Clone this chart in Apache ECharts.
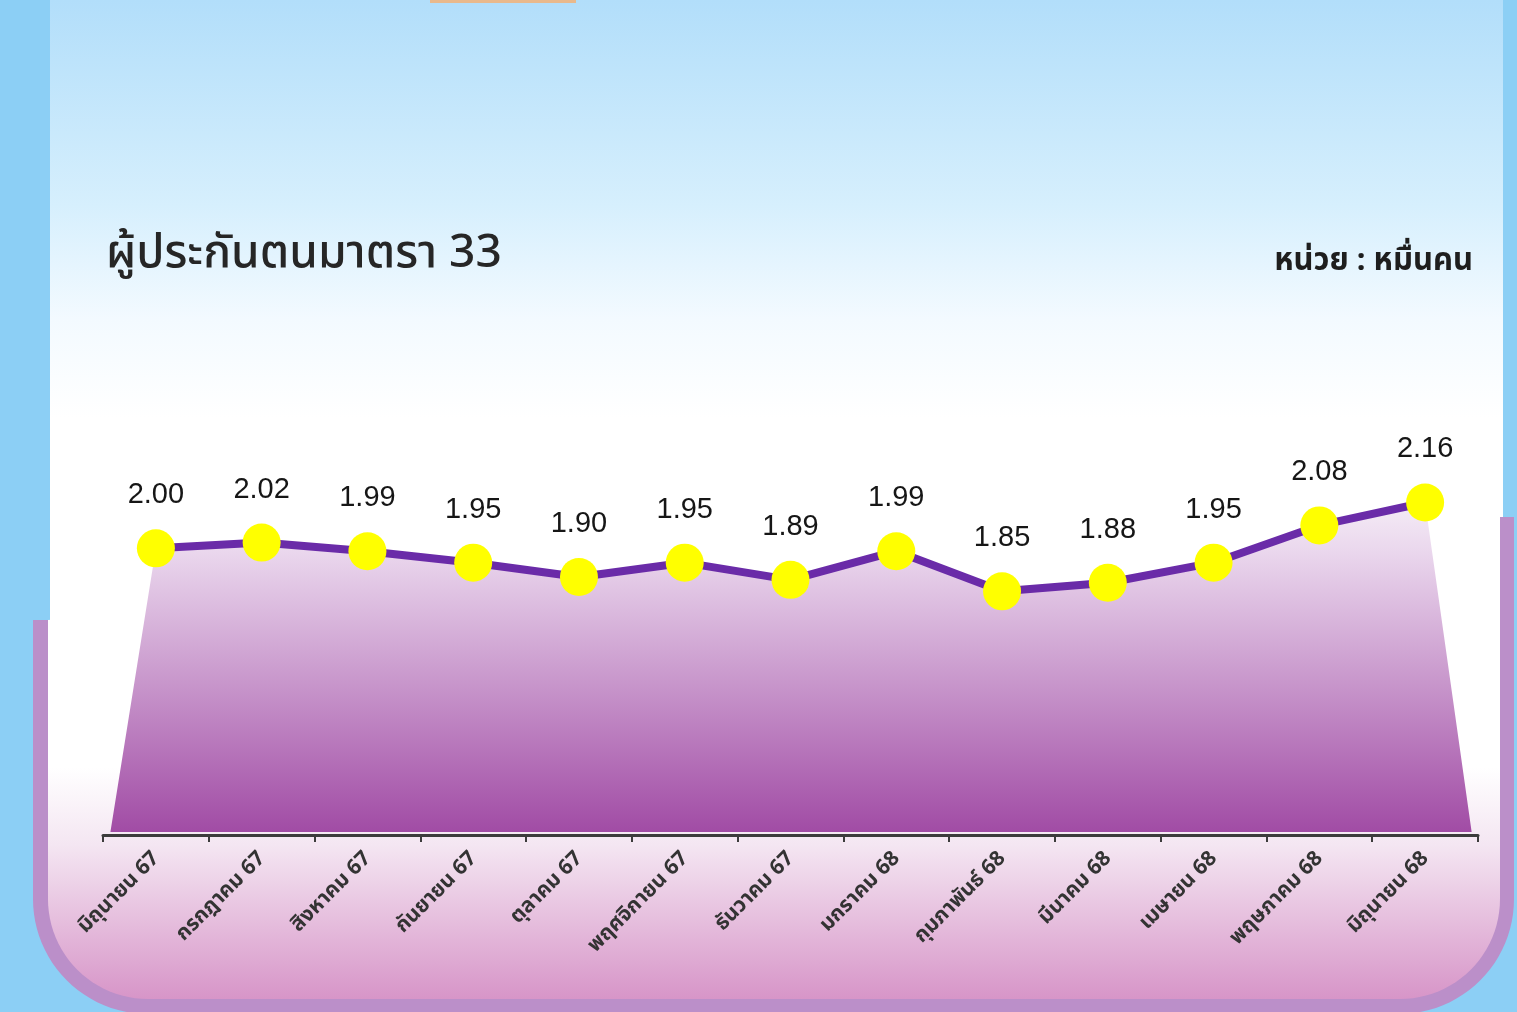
<!DOCTYPE html>
<html>
<head>
<meta charset="utf-8">
<script src="https://cdn.jsdelivr.net/npm/echarts@6/dist/echarts.min.js"></script>
<style>
html,body{margin:0;padding:0;width:1517px;height:1012px;overflow:hidden;}
#c{width:1517px;height:1012px;}
</style>
</head>
<body>
<div id="c"></div>
<script>
// ---- data ----
const categories = ['มิถุนายน 67','กรกฎาคม 67','สิงหาคม 67','กันยายน 67','ตุลาคม 67','พฤศจิกายน 67','ธันวาคม 67','มกราคม 68','กุมภาพันธ์ 68','มีนาคม 68','เมษายน 68','พฤษภาคม 68','มิถุนายน 68'];
const values = [2.00, 2.02, 1.99, 1.95, 1.90, 1.95, 1.89, 1.99, 1.85, 1.88, 1.95, 2.08, 2.16];
const titleText = 'ผู้ประกันตนมาตรา 33';
const unitText = 'หน่วย : หมื่นคน';
const yMin = 1.0, yMax = 2.5;

// decorative rounded panel outline helper
function arc(cx, cy, r, a0, a1, n) {
  const out = [];
  for (let k = 0; k <= n; k++) {
    const a = a0 + (a1 - a0) * k / n;
    out.push([cx + r * Math.cos(a), cy + r * Math.sin(a)]);
  }
  return out;
}
function panel(xl, xr, yTopL, yTopR, yb, r) {
  let pts = [[xl, yTopL]];
  pts = pts.concat(arc(xl + r, yb - r, r, Math.PI, Math.PI / 2, 24));
  pts = pts.concat(arc(xr - r, yb - r, r, Math.PI / 2, 0, 24));
  pts.push([xr, yTopR]);
  return pts;
}
const outerPts = panel(33, 1514, 620, 517, 1014, 115).concat([[1500, 517], [1500, 620]]);
const innerPts = panel(48, 1500, 620, 517, 999, 100);

const chart = echarts.init(document.getElementById('c'), null, {renderer:'canvas'});

const option = {
  backgroundColor: '#8ccff5',
  animation: false,
  graphic: [
    { type:'rect', z:-10, silent:true, shape:{x:50,y:0,width:1453,height:760},
      style:{fill:{type:'linear',x:0,y:0,x2:0,y2:1,colorStops:[
        {offset:0,color:'#b2defa'},{offset:0.27,color:'#d6effd'},{offset:0.42,color:'#f3faff'},{offset:0.55,color:'#ffffff'},{offset:1,color:'#ffffff'}]}} },
    { type:'rect', z:-10, silent:true, shape:{x:430,y:0,width:146,height:3}, style:{fill:'#e9b98c'} },
    { type:'polygon', z:-9, silent:true, shape:{points:outerPts}, style:{fill:'#bb8fc9'} },
    { type:'polygon', z:-8, silent:true, shape:{points:innerPts},
      style:{fill:{type:'linear',x:0,y:0,x2:0,y2:1,colorStops:[
        {offset:0,color:'#ffffff'},{offset:0.52,color:'#ffffff'},{offset:0.68,color:'#f4e6f2'},{offset:1,color:'#d795c8'}]}} },
    { type:'text', z:5, left:106, top:231,
      style:{text:titleText, fontSize:46, fontWeight:500, fill:'#262626', fontFamily:'"Noto Sans", "Noto Sans Thai", sans-serif'} },
    { type:'text', z:5, right:44, top:246,
      style:{text:unitText, fontSize:31, fontWeight:'bold', fill:'#1e1e1e', fontFamily:'"Noto Sans", "Noto Sans Thai", sans-serif'} }
  ],
  grid: { left:103, right:39, top:405, bottom:177, containLabel:false },
  xAxis: {
    type:'category', data:categories, boundaryGap:true,
    axisLine:{show:true, lineStyle:{color:'#3c3c3c', width:3}},
    axisTick:{show:true, length:7, lineStyle:{color:'#3c3c3c', width:2}},
    axisLabel:{interval:0, rotate:45, margin:20, fontSize:21, fontWeight:'bold', color:'#333333', fontFamily:'"Noto Sans", "Noto Sans Thai", sans-serif'},
    splitLine:{show:false}
  },
  yAxis: { type:'value', min:yMin, max:yMax, show:false, splitLine:{show:false} },
  series: [
    {
      type:'custom', z:1, silent:true,
      data:[[0, values[0]]],
      renderItem: function(params, api){
        const pts = values.map((v,i)=>api.coord([i,v]));
        const band = api.size([1,0])[0];
        const base = api.coord([0,yMin])[1] - 3;
        const poly = [[pts[0][0]-band*0.43, base]].concat(pts).concat([[pts[pts.length-1][0]+band*0.44, base]]);
        return {
          type:'polygon', shape:{points:poly},
          style:{fill:{type:'linear',x:0,y:0,x2:0,y2:1,colorStops:[
            {offset:0,color:'#f5ecf6'},{offset:0.15,color:'#ead7ed'},{offset:1,color:'#a14ca5'}]}}
        };
      }
    },
    {
      type:'line', z:3, data:values, smooth:false,
      lineStyle:{color:'#6a2ba8', width:8},
      symbol:'circle', symbolSize:38,
      itemStyle:{color:'#ffff00', borderWidth:0},
      label:{show:true, position:'top', distance:19, formatter:(p)=>p.value.toFixed(2),
        fontSize:29, lineHeight:30, color:'#161616', fontFamily:'"Liberation Sans", Arial, sans-serif'}
    }
  ]
};
chart.setOption(option);
</script>
</body>
</html>
